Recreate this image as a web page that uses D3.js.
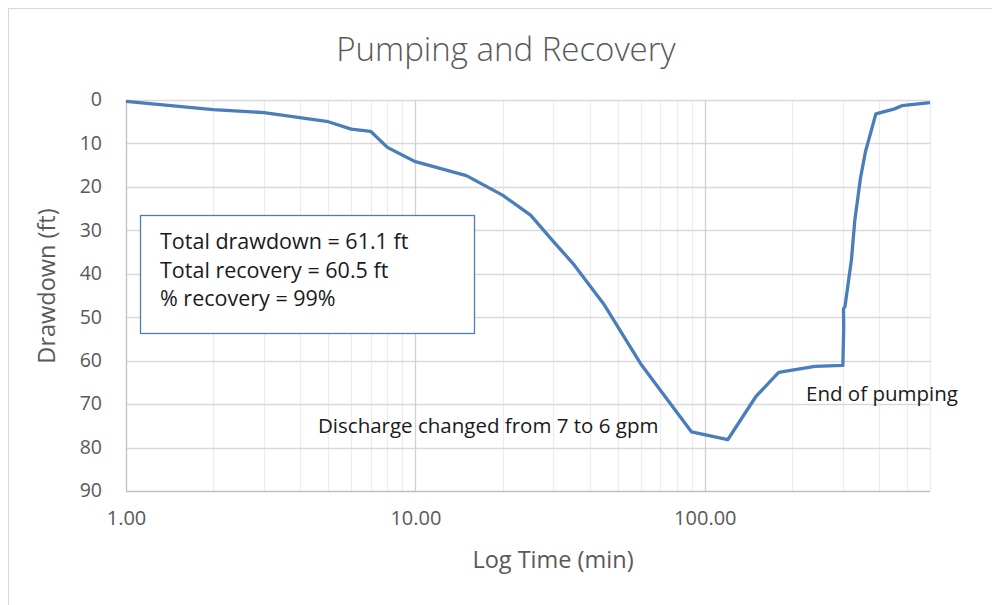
<!DOCTYPE html>
<html><head><meta charset="utf-8">
<script src="https://cdn.jsdelivr.net/npm/d3@7"></script>
<style>
html,body{margin:0;padding:0;background:#fff;}
svg{display:block;}
</style></head>
<body>
<script>
// ---- data ----
const timeMin = [1, 2, 3, 5, 6, 7, 8, 10, 15, 20, 25, 30, 35, 45, 60, 90, 120, 150, 180, 240, 300, 302, 301.5, 305, 321, 330, 345, 359, 390, 420, 450, 480, 600];
const drawdownFt = [0.3, 2.2, 2.9, 5.0, 6.7, 7.2, 10.9, 14.2, 17.4, 21.9, 26.5, 32.6, 37.6, 47.2, 60.7, 76.4, 78.2, 68.3, 62.7, 61.3, 61.1, 52.4, 48.0, 47.6, 36.9, 27.6, 18.0, 11.9, 3.2, 2.6, 2.1, 1.3, 0.6];
const yTicks = [0, 10, 20, 30, 40, 50, 60, 70, 80, 90];
const xTickValues = [1, 10, 100];
const xTickLabels = ["1.00", "10.00", "100.00"];
const infoLines = ["Total drawdown = 61.1 ft", "Total recovery = 60.5 ft", "% recovery = 99%"];
const notes = [
  {text: "Discharge changed from 7 to 6 gpm"},
  {text: "End of pumping"}
];
const titleText = "Pumping and Recovery";
const xTitle = "Log Time (min)";
const yTitle = "Drawdown (ft)";

// ---- layout ----
const W = 992, H = 605;
const font = "'Open Sans', 'Noto Sans', sans-serif";
const svg = d3.select("body").append("svg").attr("width", W).attr("height", H);

svg.append("rect").attr("x", 8.5).attr("y", 8.5).attr("width", 1000).attr("height", 700)
  .attr("fill", "#fff").attr("stroke", "#d9d9d9").attr("stroke-width", 1);

const x = d3.scaleLog().domain([1, 600]).range([126, 930]);
const y = d3.scaleLinear().domain([0, 90]).range([100, 491]);

// vertical gridlines
const minorVals = [];
for (let k = 0; k < 3; k++) for (let m = 1; m <= 9; m++) { const v = m * Math.pow(10, k); if (v <= 600) minorVals.push(v); }
minorVals.push(600);
const g = svg.append("g");
g.selectAll("line.vmin").data(minorVals.filter(v => !xTickValues.includes(v))).join("line")
  .attr("x1", d => Math.round(x(d)) + 0.5).attr("x2", d => Math.round(x(d)) + 0.5)
  .attr("y1", y(0)).attr("y2", y(90)).attr("stroke", "#ececec").attr("stroke-width", 1.2);
// horizontal gridlines
g.selectAll("line.h").data(yTicks.slice(0, -1)).join("line")
  .attr("x1", x(1)).attr("x2", x(600))
  .attr("y1", d => Math.round(y(d)) + 0.5).attr("y2", d => Math.round(y(d)) + 0.5)
  .attr("stroke", "#d9d9d9").attr("stroke-width", 1.3);
// major vertical
g.selectAll("line.vmaj").data(xTickValues.slice(1)).join("line")
  .attr("x1", d => Math.round(x(d)) + 0.5).attr("x2", d => Math.round(x(d)) + 0.5)
  .attr("y1", y(0)).attr("y2", y(90)).attr("stroke", "#d0d0d0").attr("stroke-width", 1.3);

// axes lines
svg.append("line").attr("x1", x(1)).attr("x2", x(600)).attr("y1", Math.round(y(90)) + 0.5).attr("y2", Math.round(y(90)) + 0.5)
  .attr("stroke", "#bfbfbf").attr("stroke-width", 1.3);
svg.append("line").attr("x1", Math.round(x(1)) + 0.5).attr("x2", Math.round(x(1)) + 0.5).attr("y1", y(0)).attr("y2", y(90))
  .attr("stroke", "#bfbfbf").attr("stroke-width", 1.3);

// axis tick labels using d3 axes
const yAxis = d3.axisLeft(y).tickValues(yTicks).tickSize(0).tickPadding(0);
const ya = svg.append("g").attr("transform", "translate(102,-1)").call(yAxis);
ya.select(".domain").remove();
ya.selectAll("text").attr("font-family", font).attr("font-size", 19.5).attr("fill", "#595959").attr("dy", "0.35em");

const xAxis = d3.axisBottom(x).tickValues(xTickValues).tickFormat((d, i) => xTickLabels[i]).tickSize(0).tickPadding(0);
const xa = svg.append("g").attr("transform", "translate(0,510)").call(xAxis);
xa.select(".domain").remove();
xa.selectAll("text").attr("font-family", font).attr("font-size", 20).attr("fill", "#595959").attr("dy", "0.75em");

// title & axis titles
svg.append("text").attr("x", 506).attr("y", 61).attr("text-anchor", "middle")
  .attr("font-family", font).attr("font-weight", 300).attr("font-size", 33).attr("fill", "#595959").text(titleText);
svg.append("text").attr("x", 553).attr("y", 568).attr("text-anchor", "middle")
  .attr("font-family", font).attr("font-size", 23.5).attr("fill", "#595959").text(xTitle);
svg.append("text").attr("transform", "translate(55,286) rotate(-90)").attr("text-anchor", "middle")
  .attr("font-family", font).attr("font-size", 23.5).attr("fill", "#595959").text(yTitle);

// info box
svg.append("rect").attr("x", 140.5).attr("y", 215.5).attr("width", 334).attr("height", 118)
  .attr("fill", "#fff").attr("stroke", "#4a7ebb").attr("stroke-width", 1.3);
svg.selectAll("text.info").data(infoLines).join("text")
  .attr("x", 160).attr("y", (d, i) => 249 + i * 28.5)
  .attr("font-family", font).attr("font-size", 21.5).attr("fill", "#1a1a1a").text(d => d);

// line
const pts = timeMin.map((t, i) => [t, drawdownFt[i]]);
svg.append("path").datum(pts)
  .attr("d", d3.line().x(d => x(d[0])).y(d => y(d[1])))
  .attr("fill", "none").attr("stroke", "#4a7ebb").attr("stroke-width", 3.3).attr("stroke-linejoin", "round");

// annotations
svg.append("text").attr("x", 318).attr("y", 433).attr("font-family", font).attr("font-size", 20.5).attr("fill", "#1a1a1a").text(notes[0].text);
svg.append("text").attr("x", 806).attr("y", 401).attr("font-family", font).attr("font-size", 20.5).attr("fill", "#1a1a1a").text(notes[1].text);
</script>
</body></html>
